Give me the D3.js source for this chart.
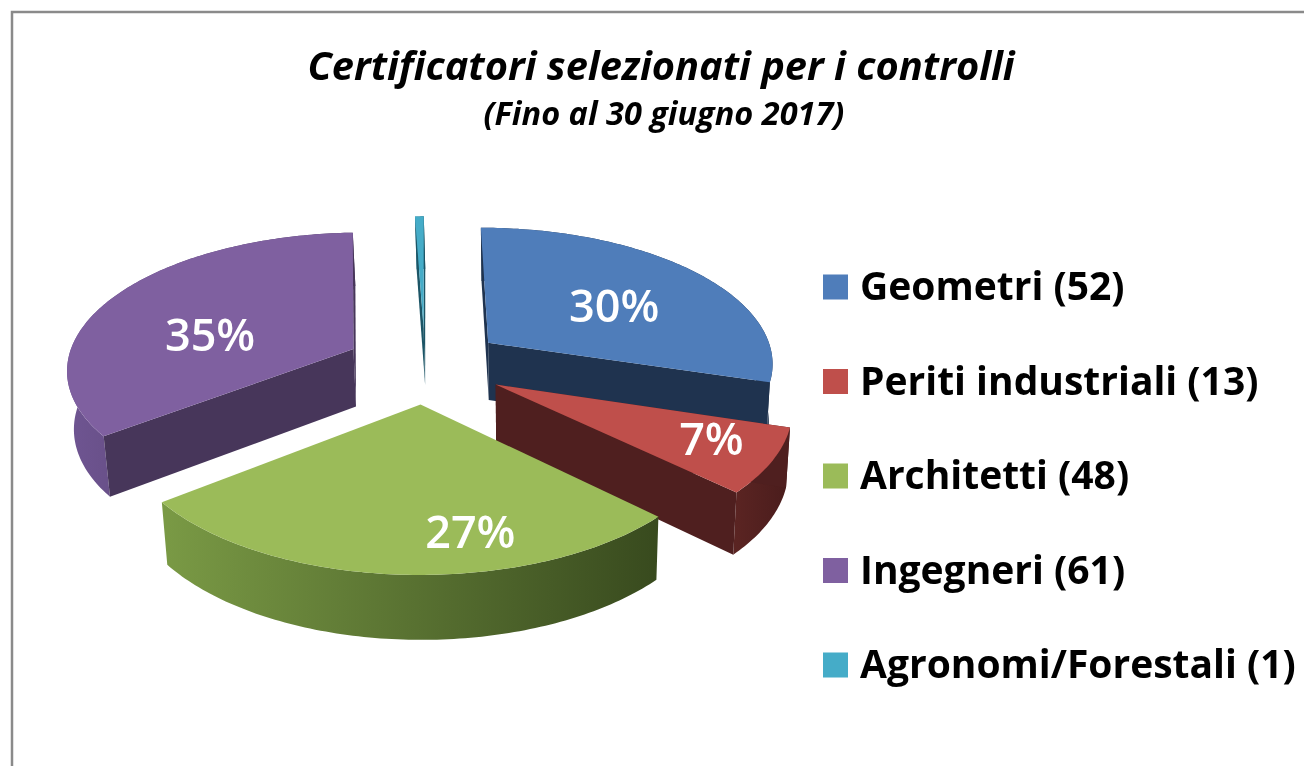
<!DOCTYPE html>
<html><head><meta charset="utf-8">
<script src="https://cdnjs.cloudflare.com/ajax/libs/d3/7.8.5/d3.min.js"></script>
<style>html,body{margin:0;padding:0;background:#fff}svg{display:block;filter:blur(.5px)}text{font-family:"Open Sans",sans-serif}</style>
</head><body><svg id="c" width="1304" height="766"></svg>
<script>
const categories=["Geometri","Periti industriali","Architetti","Ingegneri","Agronomi/Forestali"];
const counts=[52,13,48,61,1];
const percentLabels=["30%","7%","27%","35%",""];
const topColors=["#4f7dba","#bf4f4b","#9bbb59","#7f60a0","#45acc8"];
const faceColors=["#1f334f","#4f1f1f","#3f5020","#47365a","#1c5566"];
const rimLight=["#1f334f","#5a2422","#7a9a45","#6f5592","#2f8aa3"];
const rimDark=["#1f334f","#4a1c1c","#384a1e","#47365a","#1c5566"];
const labelAngle=[58,118,169,282,0];
const labelRadius=[.56,.78,.79,.53,0];
const title="Certificatori selezionati per i controlli";
const subtitle="(Fino al 30 giugno 2017)";

const svg=d3.select("#c");
const explode=.28, persp=.1337, depth=58;
const sx=d3.scaleLinear().domain([-1,1]).range([425-287,425+287]);
const sy=d3.scaleLinear().domain([-1,1]).range([365-136,365+136]);

const arcs=d3.pie().sort(null).startAngle(0).endAngle(2*Math.PI)(counts);
function origin(a){const m=(a.startAngle+a.endAngle)/2;return [explode*Math.sin(m),-explode*Math.cos(m)];}
function disk(a,t,r){const o=origin(a);return [o[0]+r*Math.sin(t),o[1]-r*Math.cos(t)];}
function upper(p){const s=1/(1-persp*p[1]);return [sx(p[0]*s),sy(p[1]*s)];}
function lower(p){const s=1/(1-persp*p[1]);const c=sx(0);
  return [c+(sx(p[0]*s)-c)*.985+1.5,sy(p[1]*s)+depth*Math.pow(s,.6)];}
const line=d3.line();
const poly=pts=>line(pts)+"Z";
function arcAngles(a){const n=Math.max(4,Math.ceil((a.endAngle-a.startAngle)*60));
  return d3.range(n+1).map(i=>a.startAngle+(a.endAngle-a.startAngle)*i/n);}

// frame
svg.append("path").attr("d",line([[12,766],[12,12],[1304,12]])).attr("fill","none").attr("stroke","#8a8a8a").attr("stroke-width",2.5);

const defs=svg.append("defs");
[4,3,0,1,2].forEach(i=>{
  const a=arcs[i],g=svg.append("g");
  const ang=arcAngles(a);
  const topArc=ang.map(t=>upper(disk(a,t,1)));
  const botArc=ang.map(t=>lower(disk(a,t,1)));
  const o=disk(a,0,0);
  const xs=topArc.map(d=>d[0]);
  const grad=defs.append("linearGradient").attr("id","rim"+i).attr("gradientUnits","userSpaceOnUse")
    .attr("x1",d3.min(xs)).attr("x2",d3.max(xs)).attr("y1",0).attr("y2",0);
  grad.append("stop").attr("offset",0).attr("stop-color",rimLight[i]);
  grad.append("stop").attr("offset",1).attr("stop-color",rimDark[i]);
  const face=t=>{const p=disk(a,t,1);
    g.append("path").attr("d",poly([upper(o),upper(p),lower(p),lower(o)])).attr("fill",faceColors[i]);};
  // outer rim first, then the cut faces, then the top surface
  g.append("path").attr("d",poly(topArc.concat(botArc.slice().reverse()))).attr("fill",`url(#rim${i})`);
  if(i!==2){face(a.startAngle);face(a.endAngle);}
  g.append("path").attr("d",poly([upper(o)].concat(topArc))).attr("fill",topColors[i]);
});

// percent labels
arcs.forEach((a,i)=>{
  if(!percentLabels[i])return;
  const p=upper(disk(a,labelAngle[i]*Math.PI/180,labelRadius[i]));
  svg.append("text").attr("x",p[0]).attr("y",p[1]+16).attr("text-anchor","middle")
    .attr("font-size",45).attr("font-weight",600).attr("fill","#fff").text(percentLabels[i]);
});

// titles
svg.append("text").attr("x",661).attr("y",80).attr("text-anchor","middle").attr("font-size",39.8)
  .attr("font-weight",700).attr("font-style","italic").attr("fill","#000").text(title);
svg.append("text").attr("x",664).attr("y",125).attr("text-anchor","middle").attr("font-size",32.5)
  .attr("font-weight",700).attr("font-style","italic").attr("fill","#000").text(subtitle);

// legend
const rowY=d3.scalePoint().domain(categories).range([287,665]);
categories.forEach((c,i)=>{
  const y=rowY(c);
  svg.append("rect").attr("x",823).attr("y",y-12.5).attr("width",25).attr("height",25).attr("fill",topColors[i]);
  svg.append("text").attr("x",860).attr("y",y+13).attr("font-size",39).attr("font-weight",700)
    .attr("fill","#000").text(`${c} (${counts[i]})`);
});
</script></body></html>
